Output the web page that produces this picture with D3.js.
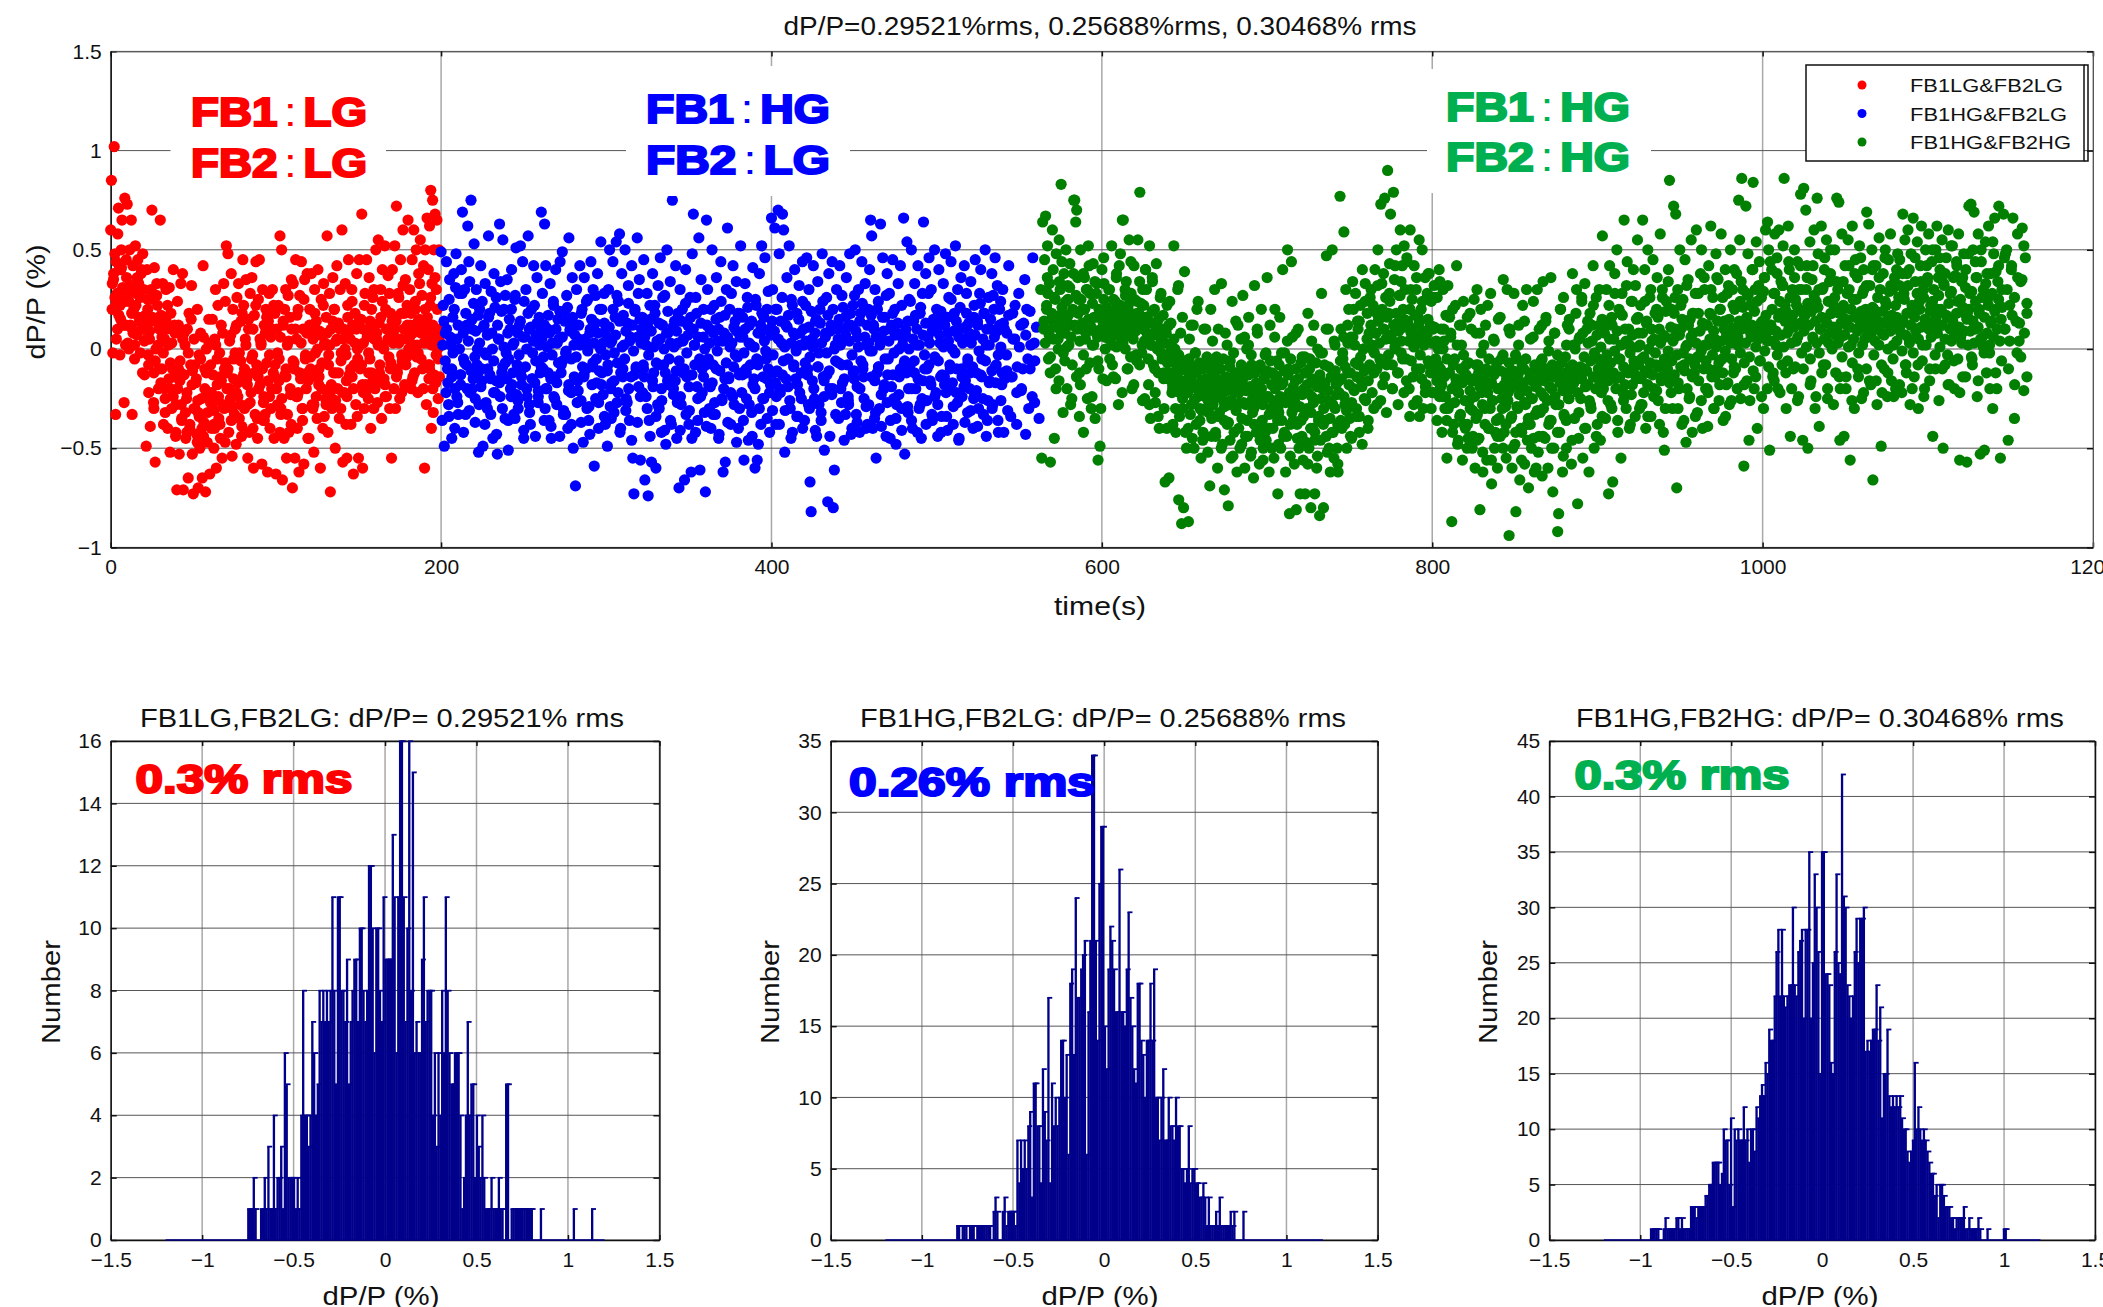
<!DOCTYPE html>
<html>
<head>
<meta charset="utf-8">
<script src="https://cdn.jsdelivr.net/npm/d3@7"></script>
<style>
html, body { margin: 0; padding: 0; background: #fff; overflow: hidden; }
svg { display: block; }
text { font-family: "Liberation Sans", Arial, sans-serif; fill: #111; }
</style>
</head>
<body>
<div id="chart"></div>
<script>
// all values, one row per time slice
var redValues = [
 [.6,.85,.2,-.02,.35,1.02,.48,-.33,.05,.28,.58,.71,.4,-.03,.15,.5,.65,.3,.25,-.27,.76,.02,.45],
 [.73,.3,.0,.5,.12,.65,-.33,.42,.2,-.05,.52,.28,.07,.45,.33,.14,-.02,.38,.1,.48],
 [.3,-.13,.12,-.49,.4,.2,-.08,.05,-.39,.3,.7,.14,-.27,.41,-.57,.0,.33,.22,-.2,.1],
 [.65,.17,-.1,.33,-.38,.05,-.25,.3,.1,-.4,.02,.31,-.52,.18,-.3,-.1,.4,-.14,.08,-.42],
 [-.71,-.2,.12,-.53,-.06,.33,-.35,.38,-.71,-.13,.02,-.45,-.25,.1,-.65,.18,-.38,-.08,.32,-.53],
 [-.73,.05,-.3,-.17,-.43,.2,-.7,-.03,-.5,.08,-.25,-.65,.42,-.37,-.1,-.72,.0,-.47,-.22,.15],
 [-.63,-.08,-.4,.15,-.27,-.5,.05,.3,-.6,-.18,.22,-.35,-.02,-.45,.12,-.55,-.28,.33,-.1,.24],
 [.52,-.12,.48,-.42,.04,-.25,.38,-.54,.2,-.05,-.33,.1,-.48,.26,-.17,.33,-.02,-.28,.14,-.39],
 [.45,.22,-.3,.05,.35,-.15,-.55,.1,-.42,.28,-.22,.36,-.03,-.6,.17,-.33,.44,-.08,-.45,.25],
 [.45,-.18,.03,-.58,.3,-.27,.12,-.33,.2,-.07,-.62,.14,.28,-.4,.06,-.2,.3,-.12,-.45,.18],
 [-.63,.1,-.28,.22,-.05,.57,-.33,.5,-.66,.12,-.45,-.13,.3,-.55,.02,.27,-.42,.16,-.23,.35],
 [-.7,.33,-.1,-.55,.45,.05,-.4,.2,-.62,.27,-.15,.44,-.3,.1,-.58,.35,-.03,-.2,.38,-.45],
 [-.45,.2,-.1,.38,-.28,.05,-.52,.3,-.02,.14,-.35,.4,-.18,.09,-.6,.25,-.07,-.4,.33,.02],
 [-.25,.16,.57,-.42,-.03,.28,-.72,.1,-.3,.36,-.12,.2,-.5,.04,.42,-.2,.13,-.35,.3,-.06],
 [.6,-.57,.1,-.22,.33,-.03,-.55,.22,.45,-.13,.05,-.38,.3,.12,-.63,-.08,.18,-.28,.38,.0],
 [-.55,.45,-.1,.15,.68,-.6,.03,-.3,.28,-.18,.45,.08,-.25,.36,-.05,-.4,.2,.12,-.15,.3],
 [-.2,.5,.05,-.27,.55,.13,-.08,.3,-.35,.4,.02,-.15,.52,.2,-.24,.1,.37,-.04,-.3,.18],
 [-.55,.4,.08,-.2,.52,.15,.72,-.1,.28,.03,-.25,.45,.18,-.06,.6,.1,-.18,.35,.05,.22],
 [.65,-.02,.3,.12,-.2,.45,.08,.6,-.12,.2,.5,.02,-.22,.38,.15,.55,-.05,.27,.1,.42],
 [-.6,.5,.12,-.28,.66,.03,.4,-.15,.62,.22,.8,-.4,.33,.75,-.32,.5,.08,.68,-.17,.3,.65,.0,-.25,.5,.1]
];
var redDense = [
 [.33,.38,.26,.44,.1,.17,.22,.41,.31,.12,.24,.36,.03],
 [.24,.29,.18,.08,.02,.22,.35,.16,.26,.4,.1,.04],
 [.17,.05,-.03,.09,.25,.16,-.12,-.06,.27,.02,.12,-.17],
 [.06,-.02,-.2,.14,.22,-.15,-.07,.03,-.24,.12,-.28,.24],
 [-.1,-.16,-.28,.05,.08,-.32,-.22,-.02,-.4,.15,-.11,-.3],
 [-.08,-.15,-.26,-.34,-.05,-.4,.06,-.2,-.12,-.32,.03,-.27],
 [-.22,-.13,-.31,.02,-.05,-.24,-.38,-.16,.08,-.3,-.07,-.2],
 [-.1,-.2,.07,-.3,-.15,-.02,.12,-.24,-.35,-.06,.18,-.13],
 [-.1,.02,-.18,.15,-.27,-.05,.1,-.12,.22,-.35,-.2,.05],
 [.02,-.1,-.24,.08,.16,-.16,-.03,-.3,.1,.22,-.08,-.2],
 [-.02,-.16,.06,-.25,.14,.2,-.1,-.33,.04,-.2,.1,-.06],
 [-.07,.1,.17,-.22,-.12,.03,-.3,.25,-.05,.08,-.16,.12],
 [-.04,-.14,.1,.18,-.24,.0,-.1,.07,-.2,.22,.03,-.28],
 [.08,-.08,.02,-.18,.14,.2,-.26,.05,-.12,.1,-.02,-.22],
 [.05,.0,-.16,.16,.09,-.1,.24,-.2,.03,.1,-.05,.14],
 [.02,-.08,.1,.22,-.22,.06,-.02,.14,-.12,.26,.05,-.18],
 [.08,.02,-.12,.16,.24,.0,-.18,.1,.05,.28,-.07,.14],
 [.03,.1,.14,-.12,.26,.05,-.03,.32,.18,-.08,.12,.0],
 [.06,.18,.02,.1,.24,-.04,.14,.33,.08,-.1,.03,.2],
 [.05,.16,.1,-.08,.26,.02,.12,-.13,.36,.06,.2,-.05,.04]
];
var redLow = [
 [.22,.4,.12,.32],[.1,.36,-.12,.25],[-.22,-.3,-.1,.05],[-.32,-.2,-.44,-.12],[-.36,-.42,-.18,-.47],
 [-.32,-.44,-.24,-.38],[-.4,-.14,-.47,-.28],[-.36,-.22,-.44,-.12],[-.28,-.4,-.14,-.36],[-.36,-.24,-.14,-.42],
 [-.3,-.14,-.38,-.24],[-.24,-.36,-.12,-.3],[-.28,-.14,-.34,-.22],[-.24,-.12,-.3,-.38],[-.24,-.14,-.34,-.18],
 [-.22,-.12,-.3,-.16],[-.16,-.24,-.1,-.3],[-.14,-.22,-.04,-.16],[-.14,-.02,-.2,-.08],[-.1,-.2,-.03,-.14]
];
var blueValues = [
 [.49,-.36,.22,-.49,.08,.44,-.1,-.28,.35,.02,-.45,.16,.38,-.2,.48,.05,-.33,.28,-.13,.4,.69,-.05,.3,-.33,.12,.62,.44,-.22,.75,.1,-.15],
 [.53,-.25,.3,.0,-.52,.2,.42,-.1,-.49,.12,.33,-.03,-.3,.57,.18,-.15,.08,-.45,.38,-.22,.26,-.53,.05,.63,.34,-.12,.55,.2,-.35,-.02],
 [.35,-.51,.15,-.2,.4,.02,-.33,.25,.51,-.08,-.3,.12,.52,-.14,.44,-.45,.06,.3,-.24,.57,.1,-.38,.2,-.02,.42,-.17,.07,.36,-.27,.16],
 [-.12,.69,.28,-.04,.63,.42,-.2,.1,-.36,.33,-.45,.03,.22,-.14,.4,-.28,.15,.05,.44,-.08,.49,-.33,.19,-.02,.27,-.4,.56,.1,-.22,.36],
 [-.5,.12,-.69,.3,-.16,.05,.42,-.26,.2,-.47,.36,.02,-.1,.25,-.36,.08,.44,-.18,.3,-.59,.13,-.05,.38,-.27,.2,.54,-.12,.03,.28,-.38],
 [.1,-.49,.3,.5,-.2,.04,.44,-.32,.16,.54,-.07,.24,.58,-.4,.38,-.14,.02,.5,-.25,.13,.32,-.36,.06,.42,-.55,-.73,.2,-.1,.56,.28],
 [.35,-.56,.1,-.22,.45,-.66,.02,.28,-.74,-.36,.15,-.57,.38,-.12,.22,-.6,.04,.32,-.3,.46,-.42,.12,-.08,.27,-.48,.5,.08,-.18,.34,-.38],
 [.75,-.2,.14,.42,-.45,.03,-.7,.3,-.28,.2,.05,-.66,.4,-.14,.12,-.38,.26,-.62,.48,.68,.02,-.42,.18,-.25,.56,-.61,.35,-.1,.06,-.32],
 [-.72,.65,.3,-.18,.1,-.4,.5,-.08,.22,-.33,.36,.04,-.45,.16,.44,-.25,-.62,.08,-.57,.3,.61,-.14,.2,-.38,.03,.42,-.28,.14,.34,-.04],
 [-.4,.18,.52,-.22,.06,-.56,.33,-.1,.26,-.46,.12,.02,-.32,.41,-.15,-.6,.22,-.56,-.48,.38,.08,.52,-.25,.16,.46,-.05,-.35,.29,.1,-.18],
 [.66,.3,-.12,.61,-.38,.2,.7,.48,-.22,.03,.68,.6,-.52,.12,.36,-.05,.52,-.3,.25,-.42,.08,.4,-.15,.18,-.34,.32,.02,-.25,.44,.1],
 [-.36,.22,.46,-.1,.3,-.67,-.82,.05,.42,-.25,.14,-.44,.34,-.02,.2,-.32,.48,-.14,-.51,.08,.26,-.77,.38,-.2,.12,.44,-.8,-.61,.02,.3],
 [.1,-.35,.42,-.2,.27,.04,-.46,.16,.36,-.08,-.28,.48,.12,-.4,.22,-.15,.5,-.33,.06,.3,-.42,.18,.44,-.1,-.25,.33,.02,-.38,.2,.4],
 [.65,.57,-.4,.1,.3,-.55,-.12,.24,-.3,.63,.05,.46,-.2,.16,-.44,.38,-.05,.28,-.36,.12,.45,-.25,.2,-.48,.08,.33,-.14,.42,-.3,.02],
 [.66,-.53,.1,.54,-.32,.25,-.08,.5,-.4,.14,.33,-.2,.02,.42,-.3,.18,-.45,.28,.64,-.1,.38,-.26,.06,.46,-.16,.3,-.36,.12,.5,-.05],
 [.2,-.28,.4,.03,-.42,.15,.33,-.14,.48,-.34,.08,.26,-.2,.44,.0,-.38,.18,.52,-.1,.3,-.46,.1,.36,-.24,.05,.42,-.16,.28,-.32,.13],
 [-.2,.34,.06,-.4,.22,.45,-.12,.14,-.3,.28,.4,-.05,-.25,.18,.5,.02,-.36,.26,-.16,.1,.38,-.28,.2,.46,-.08,.32,-.42,.12,.24,-.18],
 [.3,-.15,.08,.42,-.34,.18,.05,-.22,.28,.12,-.1,.35,.2,-.3,.02,.46,-.06]
];
var blueDense = [
 [.02,.14,-.06,.1,-.17,.25,.06,-.1,-.02,.2,.31,-.24,.12,.0,-.13,.28,.08,-.07,.18,-.2,.04,.34,-.11,.15,.23,-.04],
 [.09,-.08,.17,.03,-.19,.24,.11,-.02,-.27,.07,.16,-.13,.29,.0,-.06,.21,-.16,.12,.05,-.24,.19,-.09,.01,.27,-.15,.08],
 [-.05,.1,.2,-.12,.03,.27,-.23,.08,-.03,.14,-.18,.06,.24,-.09,.0,.18,-.28,.11,-.15,.04,.22,-.06,.13,-.21,.02,.09],
 [.05,-.1,.12,-.2,.01,.17,.08,-.15,-.03,.24,-.25,.1,.03,-.07,.19,-.12,.06,-.31,.14,-.01,.21,-.18,.09,-.05,.16,.02],
 [.07,-.04,-.21,.12,.02,.18,-.09,-.14,.05,.24,-.01,-.29,.1,.15,-.07,.03,.27,-.17,.08,-.11,.0,.2,-.23,.13,-.03,.06],
 [-.08,.11,.03,-.17,.2,-.02,.07,.27,-.22,.14,-.12,.01,.17,-.05,.09,-.27,.23,.04,-.14,.12,-.01,.19,-.09,.06,-.19,.15],
 [.03,.16,-.1,.06,-.24,.12,-.03,.22,.09,-.16,.01,.18,-.07,-.28,.13,.05,-.2,.26,.0,-.12,.08,.19,-.05,.03,-.15,.11],
 [.01,-.16,.09,.18,-.06,-.24,.14,.04,-.1,.23,-.02,.07,-.31,.16,-.13,.1,.02,.26,-.19,.06,-.05,.13,-.22,.2,.0,-.08],
 [.12,-.05,.03,.2,-.17,.08,-.27,.15,-.01,.1,-.11,.24,.04,-.2,.17,-.07,.06,-.15,.01,.28,-.24,.11,-.03,.09,.18,-.13],
 [.06,-.12,.16,-.02,.1,-.25,.21,.03,-.08,.14,-.18,.01,.25,-.05,.08,-.3,.12,.18,-.14,.04,-.01,.2,-.1,-.22,.07,.14],
 [-.03,.09,.2,-.11,.05,-.2,.14,.26,-.06,.01,-.15,.11,.17,-.26,.03,.22,-.09,.07,-.01,-.18,.15,.08,-.12,.24,.02,-.07],
 [.04,-.13,.11,-.04,.19,.01,-.2,.08,.15,-.09,-.28,.13,.03,.24,-.16,.06,-.02,.17,-.11,.09,-.23,.2,.0,-.06,.12,.05],
 [.15,.02,-.08,.21,-.15,.07,.11,-.24,.04,.18,-.03,-.12,.27,.09,-.19,.01,.14,-.06,.23,-.14,.06,-.29,.12,.03,-.01,.17],
 [-.01,.12,-.16,.06,.2,-.09,.02,-.23,.16,.09,-.05,.27,-.13,.04,.1,-.19,.18,-.02,.07,-.28,.13,.0,-.1,.22,.05,-.07],
 [.08,-.12,.14,.0,.24,-.2,.05,-.06,.17,.1,-.15,.02,.21,-.25,.07,-.03,.13,-.1,.28,.03,-.18,.09,.15,-.04,-.22,.11],
 [-.06,.07,.19,-.13,.01,.12,-.22,.16,.04,-.08,.25,-.17,.09,-.02,.14,-.27,.06,.21,-.1,.03,-.19,.11,.18,-.05,.08,-.12],
 [.03,-.09,.16,.07,-.21,.12,-.01,.23,-.14,.05,.18,-.06,.1,-.26,.02,.15,-.11,.27,.06,-.17,.09,-.03,.2,.01,-.12,.13],
 [.1,-.03,.17,-.14,.05,.22,-.09,.01,-.2,.13,.07,-.05,.19,-.24,.03,.11]
];
var blueLow = [
 [-.22,-.34,-.14,-.4,-.27,-.18,-.42,-.08,-.31,-.2,-.37,-.12],
 [-.28,-.16,-.38,-.1,-.33,-.22,-.43,-.17,-.3,-.07,-.36,-.24],
 [-.18,-.35,-.26,-.11,-.41,-.2,-.32,-.15,-.44,-.24,-.09,-.36],
 [-.3,-.12,-.39,-.24,-.17,-.44,-.06,-.33,-.21,-.38,-.14,-.27],
 [-.21,-.37,-.13,-.3,-.43,-.09,-.25,-.4,-.18,-.34,-.11,-.29],
 [-.35,-.16,-.27,-.42,-.1,-.31,-.2,-.46,-.13,-.37,-.24,-.08],
 [-.14,-.3,-.44,-.19,-.34,-.08,-.26,-.41,-.16,-.36,-.23,-.11],
 [-.27,-.41,-.12,-.33,-.19,-.45,-.08,-.36,-.24,-.14,-.39,-.3],
 [-.19,-.33,-.1,-.43,-.26,-.15,-.37,-.22,-.09,-.47,-.3,-.13],
 [-.36,-.12,-.28,-.44,-.2,-.08,-.38,-.25,-.15,-.42,-.31,-.17],
 [-.24,-.38,-.13,-.31,-.19,-.45,-.08,-.34,-.22,-.4,-.11,-.28],
 [-.3,-.16,-.41,-.09,-.36,-.24,-.13,-.44,-.2,-.33,-.07,-.27],
 [-.17,-.33,-.26,-.43,-.11,-.37,-.2,-.08,-.4,-.28,-.14,-.35],
 [-.32,-.09,-.39,-.18,-.27,-.45,-.13,-.35,-.23,-.41,-.06,-.29],
 [-.2,-.36,-.12,-.42,-.28,-.16,-.38,-.08,-.33,-.24,-.44,-.14],
 [-.34,-.18,-.41,-.1,-.29,-.22,-.45,-.14,-.37,-.07,-.31,-.25],
 [-.23,-.39,-.13,-.33,-.44,-.17,-.3,-.09,-.36,-.26,-.42,-.11],
 [-.31,-.14,-.38,-.21,-.43,-.1,-.27,-.35]
];
var greenValues = [
 [.3,-.55,.64,.1,.45,.67,.2,.52,-.05,.33,-.57,.15,.6,.05,-.45,.25,.48,.12,.0,.55,.3,.83,.18,-.32,.38,.08,.5,-.2,.25,.02,.43,.12,-.25,.2],
 [.75,.75,.64,.7,.36,.25,-.12,.5,.1,.2,-.42,.36,.05,.3,-.25,.52,.12,.28,-.3,.02,.43,.16,-.35,.08,.33,-.56,.2,-.49,.1,.4,-.15,.25,.06,.17],
 [.2,.08,.3,-.05,.16,.52,.02,.25,.12,-.15,.38,.1,-.28,.2,.48,.05,.65,.65,.16,.0,.34,-.1,.22,.55,.07,.28,-.2,.14,.42,.1,-.03,.24,.55,.18],
 [.79,.12,-.02,.3,.22,-.25,.4,.05,.15,-.18,.52,-.35,.02,.34,-.08,.2,-.27,.43,.1,-.12,-.4,.26,.03,-.05,.17,-.3,-.67,.1,.22,-.15,-.65,-.02,.13,-.22],
 [-.38,.52,.0,-.42,-.12,.3,-.76,-.22,.08,-.88,-.3,-.8,.39,-.1,-.5,-.18,-.87,.05,-.33,-.14,-.45,.12,-.26,-.02,-.38,-.2,.24,-.09,-.3,-.55,-.16,-.42,.1,-.24],
 [-.3,-.08,-.52,-.18,-.69,.2,-.35,-.12,-.25,.3,-.44,-.04,-.6,-.2,-.32,-.1,.33,-.48,-.26,-.71,.08,-.16,-.38,-.79,-.28,-.06,-.55,.24,-.2,-.42,-.12,-.3,-.62,.12],
 [-.22,-.5,.05,-.35,.27,-.14,-.6,-.28,.0,-.44,.16,-.2,-.54,-.08,-.32,-.65,.32,-.18,-.42,.08,-.26,-.58,-.1,.2,-.36,-.5,-.15,-.03,-.46,.36,-.24,-.62,.12,-.3],
 [-.12,-.4,-.55,.2,-.28,-.06,-.73,-.32,.16,-.5,-.18,.4,-.44,-.02,-.62,-.25,.5,-.1,-.83,-.38,.44,.06,-.3,-.58,-.16,-.81,-.45,.1,-.22,-.73,-.36,-.04,-.56,-.2],
 [-.73,-.12,-.3,.18,-.5,-.05,-.8,-.24,-.4,.12,-.73,-.16,-.6,.0,-.34,-.84,-.46,.28,-.2,-.8,-.08,-.36,.47,-.52,.1,-.26,-.62,-.14,.5,-.42,.04,-.3,-.18,-.5],
 [-.62,-.22,.77,.1,-.4,-.05,.59,-.28,.3,-.5,-.12,.2,-.35,.06,-.45,.34,-.2,.02,.28,-.3,.14,-.08,-.42,.22,-.16,.4,.0,-.25,.33,-.1,.18,-.36,.08,.26],
 [.3,.02,.22,-.12,.4,.08,-.28,.5,.15,-.05,.73,.33,-.18,.1,.76,.26,-.08,.9,.18,.43,.68,.05,-.2,.79,.35,.0,.5,.13,-.12,.27,.6,-.02,.42,.2],
 [.52,.3,-.05,.44,.12,-.2,.6,.08,.25,-.14,.42,.02,.3,-.26,.16,.55,-.1,.2,.5,-.3,.05,.36,-.18,.28,-.06,.38,.12,.24,-.22,.1,.32,-.12,.04],
 [.26,-.08,.4,-.2,.1,-.42,.3,.04,-.3,.17,-.55,.32,-.12,-.28,.08,-.87,.2,-.38,-.05,-.18,.42,-.48,-.22,.12,-.33,.02,-.56,.24,-.14,-.4,-.08,.16,-.45,-.26],
 [-.3,.1,-.5,-.15,.25,-.6,-.35,.3,-.08,-.45,-.81,.2,-.22,-.62,.02,-.3,-.12,-.56,.22,-.4,-.18,.28,-.68,-.26,.05,-.5,-.1,-.36,-.6,.15,-.2,-.44,-.05,-.3],
 [.35,-.42,-.12,-.55,.3,-.22,-.94,.08,-.35,-.6,-.15,.28,-.48,-.82,-.05,-.3,.12,-.66,-.2,-.42,.22,-.1,-.58,-.28,.3,-.38,-.7,-.15,.05,-.5,-.25,.24,-.62,-.33],
 [-.18,.3,-.52,.1,-.32,-.06,-.64,.34,-.24,-.45,.16,-.12,-.6,.04,-.36,.36,-.2,-.72,-.5,.08,-.28,-.1,-.92,-.83,-.42,.2,-.15,-.62,.26,-.34,-.04,-.5,.12,-.25],
 [.15,-.2,-.58,.38,.02,-.35,-.12,.3,-.78,-.45,.06,-.25,.24,-.55,-.1,.33,-.4,.1,-.18,-.62,.18,-.3,.04,.42,-.5,-.14,.26,-.38,-.05,.12,-.46,-.22],
 [.57,-.2,.08,-.35,.3,-.1,-.73,.42,-.28,.16,-.67,.05,.38,-.15,.5,-.42,.2,-.05,-.55,.28,-.22,.65,.1,-.3,.44,-.12,.02,-.38,.24,-.18,.4,-.08],
 [.32,-.15,.55,.08,-.3,.22,-.05,.65,-.22,.4,-.4,.14,.5,-.12,.26,-.34,.04,.45,-.2,.18,-.08,.36,-.26,.1,.58,-.16,.3,-.42,-.51,.06,.24,-.1],
 [.4,.85,-.14,.2,-.3,.72,.06,.68,-.7,.3,-.2,.5,.1,-.38,.25,-.08,.45,-.47,.02,.35,-.25,.15,.55,-.42,.08,-.12,.28,.6,-.32,.18,-.04,.38],
 [.5,-.4,.12,.3,-.2,.02,-.39,.42,.18,.62,-.14,.26,-.3,.05,.48,-.1,.35,-.26,.2,.58,-.05,-.36,.14,.4,-.18,.28,.08,-.28,.5,.1,.3,-.12],
 [.2,-.1,.38,.02,.75,.55,-.25,.86,.3,-.59,.12,.72,-.16,.48,-.46,.22,.06,.4,.84,-.2,.3,.54,-.4,.1,.44,-.06,.26,.14,-.3,.36,.6,.08],
 [.64,.5,-.51,.12,.4,-.14,.28,.58,.02,.46,-.2,.6,.18,.34,-.08,.52,.86,.22,-.3,.08,.62,.4,-.44,.15,.3,-.1,.5,.25,.04,.44,-.24,.2],
 [.78,.3,-.46,.81,.12,.7,.42,-.5,.2,.54,-.16,.35,.05,.6,-.3,.24,.76,.48,-.39,.1,.62,.3,-.08,.4,.15,.55,-.25,.03,.34,.5,.18,.08],
 [.22,.5,-.12,.76,.3,.74,-.46,.06,.58,.2,-.44,.42,-.2,.12,.55,.3,-.56,.02,.62,.25,-.3,.45,.1,.36,-.14,.52,.16,-.25,.28,.4,.05,.2],
 [.69,.1,.63,.32,-.18,.5,-.66,.2,.04,.42,-.28,.14,.56,.3,-.49,.08,.38,-.1,.5,.22,-.24,.45,.12,.58,-.16,.3,.02,.36,-.2,.16,.48,.26],
 [.45,.12,-.22,.68,.28,.55,-.08,.38,.6,.05,-.28,.48,.2,.66,-.14,.34,.1,.54,-.3,.24,.42,.62,.02,.3,-.2,.5,.14,.36,.58,-.1,.22,.44],
 [-.44,.3,.08,.5,.62,.2,-.26,.4,.12,.55,-.5,.32,-.08,.46,.16,.6,-.18,.28,.04,.52,.36,-.2,.1,.44,.24,.58,-.56,.06,.34,-.14,.48,.18],
 [.4,-.57,.16,.72,.28,.73,-.05,.5,.69,.1,.36,-.24,.58,.2,-.53,.44,.06,.3,-.51,.54,-.12,.25,.62,.02,.38,.14,-.3,.48,.66,.2,-.2,.34],
 [.72,-.55,.3,.68,.1,.5,-.46,.22,.4,.66,-.35,.14,.58,.04,.34,.61,-.21,.46,.18]
];
var greenDense = [
 [.14,.03,.22,.28,.07,-.04,.18,.11,.26,-.1,.16,.05,.34,.09,.21,-.02,.13,.24,.01,.17,.31,.06,-.08,.19,.12,.27],
 [.1,.18,.04,.25,.13,-.03,.2,.08,.3,.15,-.07,.11,.23,.02,.16,.28,.06,-.1,.19,.09,.14,.33,.0,.21,.12,.05],
 [.13,.06,.19,.1,.24,.01,.15,.08,.22,.17,.03,.12,.27,.07,.2,.11,-.04,.16,.05,.25,.09,.18,.14,-.08,.23,.02],
 [.1,.04,.16,.08,-.05,.13,.02,.19,.07,-.1,.11,.0,.15,.06,-.02,.1,-.15,.03,.08,-.07,.12,-.12,.01,-.18,.05,-.04],
 [-.08,-.14,-.03,-.19,-.1,-.25,-.06,-.16,-.11,-.22,-.05,-.13,-.28,-.09,-.18,-.02,-.12,-.24,-.07,-.17,-.31,-.1,-.2,-.15,-.04,-.26],
 [-.17,-.23,-.12,-.28,-.07,-.2,-.15,-.34,-.1,-.24,-.19,-.05,-.29,-.14,-.21,-.37,-.09,-.26,-.16,-.02,-.22,-.31,-.12,-.18,-.27,-.08],
 [-.16,-.27,-.1,-.21,-.36,-.13,-.19,-.03,-.25,-.3,-.12,-.17,-.23,-.38,-.08,-.2,-.28,-.15,-.42,-.11,-.24,-.33,-.06,-.18,-.26,-.13],
 [-.2,-.14,-.3,-.08,-.24,-.36,-.17,-.11,-.27,-.44,-.13,-.22,-.05,-.32,-.19,-.26,-.1,-.38,-.15,-.29,-.07,-.23,-.34,-.12,-.47,-.18],
 [-.22,-.1,-.32,-.15,-.27,-.42,-.07,-.19,-.36,-.13,-.25,-.02,-.3,-.17,-.44,-.21,-.09,-.35,-.14,-.28,-.55,-.11,-.23,-.38,-.16,-.06],
 [-.15,-.02,-.24,-.09,-.31,.03,-.18,-.12,-.27,.06,-.21,-.07,-.14,.1,-.34,-.04,-.19,.0,-.11,-.26,.05,-.16,-.08,.12,-.22,-.01],
 [-.02,.08,-.1,.14,.03,-.06,.2,.1,-.14,.05,.16,-.03,.24,.07,-.08,.12,.01,.18,-.12,.09,.27,.04,-.05,.15,.11,-.16],
 [.14,.04,.2,-.06,.1,.01,.17,-.1,.06,.13,-.03,-.15,.09,.02,-.19,.07,.15,-.08,-.12,.03,-.22,.11,-.05,-.16,.0,-.24],
 [-.1,-.18,.0,-.14,-.24,-.05,-.3,-.12,.06,-.2,-.08,-.27,-.15,.02,-.22,-.34,-.1,-.17,-.03,-.26,-.13,-.38,-.07,-.21,-.16,-.31],
 [-.16,-.24,-.08,-.33,-.12,-.19,-.02,-.28,-.15,-.38,-.1,-.22,-.05,-.3,-.17,-.26,-.13,-.42,-.07,-.2,-.35,-.11,-.25,-.03,-.18,-.29],
 [-.15,-.26,-.07,-.2,-.34,-.11,-.18,-.03,-.29,-.13,-.23,-.4,-.09,-.17,-.27,-.05,-.21,-.35,-.12,-.25,-.16,-.45,-.08,-.19,-.31,-.1],
 [-.13,-.22,-.05,-.3,-.16,-.1,-.26,-.01,-.19,-.36,-.08,-.14,-.24,-.11,-.03,-.28,-.17,-.07,-.21,-.33,-.12,.02,-.18,-.25,-.09,-.15],
 [-.08,-.17,.0,-.12,-.22,.05,-.09,-.15,.08,-.04,-.19,-.11,.03,-.26,-.06,.12,-.14,-.02,-.2,.07,-.1,-.16,.01,.15,-.07,-.13],
 [-.1,-.03,-.16,.05,-.07,.12,-.12,-.01,-.2,.09,-.05,-.14,.02,.17,-.09,-.18,.04,-.11,.1,-.02,-.23,.07,-.06,-.13,.15,.01],
 [-.08,.02,-.15,.08,-.04,-.11,.13,-.18,.0,-.07,.1,-.13,.05,-.02,-.21,.16,-.09,.03,-.14,.07,-.05,.19,-.1,-.01,-.17,.11],
 [-.06,.04,-.13,.1,-.03,-.17,.07,-.09,.15,-.02,-.11,.01,-.2,.12,-.05,.06,-.14,.18,-.08,.03,-.04,-.16,.09,-.01,.13,-.1],
 [.02,-.06,.12,-.1,.05,.17,-.03,.09,-.14,.01,.14,-.07,.2,.04,-.12,.1,-.01,.07,-.17,.15,.03,-.05,.22,-.09,.06,.11],
 [.06,.14,-.02,.1,.21,-.07,.03,.16,.27,-.04,.08,.12,-.11,.19,.01,.24,.05,-.06,.13,.09,.29,-.01,.17,.04,-.09,.11],
 [.12,.2,.04,.28,.09,-.03,.16,.24,.07,.32,.01,.14,.19,-.06,.1,.26,.03,.17,.11,-.09,.22,.06,.3,.13,-.02,.18],
 [.09,.17,.01,.23,.12,-.05,.19,.06,.27,.14,.03,.21,-.02,.1,.16,.31,.05,-.08,.13,.24,.08,.18,.0,.11,.26,.07],
 [.1,.03,.18,.13,-.04,.22,.07,.15,.28,.01,.11,.2,-.07,.05,.16,.25,.09,-.02,.14,.19,.02,.3,.12,-.1,.08,.17],
 [.13,.06,.21,-.03,.16,.1,.26,.02,.12,-.08,.19,.07,.24,.14,.0,.29,.09,.17,-.05,.11,.22,.04,.15,.32,.08,-.01],
 [.14,.25,.07,.18,.32,.03,.12,.22,-.02,.16,.09,.28,.05,.2,.11,-.06,.26,.15,.02,.34,.1,.19,.06,.24,.13,-.03],
 [.16,.08,.27,.01,.2,.12,.33,.05,.17,-.03,.23,.1,.29,.14,.06,.37,.18,-.05,.11,.25,.03,.21,.09,.31,.15,.02],
 [.2,.09,.29,.14,.03,.24,.36,.11,.18,.05,.26,.01,.16,.33,.08,.22,-.02,.13,.28,.06,.19,.39,.1,.25,.04,.15],
 [.21,.1,.3,.04,.17,.26,-.02,.13,.35,.08,.23]
];
var greenWide = [
 [.36,-.12,.4,-.2,-.16,.44,-.06,.32,-.28,.38,-.14,-.34],
 [-.18,.38,-.1,.42,-.24,.34,-.06,-.3,.46,-.16,.3,-.08],
 [-.14,.36,.42,-.22,.3,-.1,.44,-.18,-.06,.34,-.26,.4],
 [.3,-.28,.36,-.22,-.34,.28,-.12,-.4,.24,-.2,-.3,.32],
 [-.34,.16,-.42,-.4,.12,-.5,.2,-.36,-.46,.1,-.32,-.44],
 [.04,-.42,.1,-.5,-.36,.02,-.46,-.54,.14,-.4,-.48,.06],
 [-.44,.02,-.52,-.38,.1,-.46,-.56,-.02,-.4,-.5,.06,-.36],
 [-.48,-.02,-.42,.04,-.54,-.36,.08,-.5,-.44,-.04,-.58,-.4],
 [.04,-.46,-.54,-.02,-.38,.1,-.5,-.42,.02,-.58,-.36,.06],
 [-.38,.12,-.44,.2,-.34,.14,-.48,.24,-.4,.08,-.3,.18],
 [.32,-.26,.38,-.32,.28,-.2,.42,-.28,.34,-.22,.46,-.34],
 [.3,-.28,.36,-.34,.24,-.22,.38,-.3,.26,-.36,.34,-.24],
 [.1,-.36,.16,-.42,.22,-.46,.12,-.38,-.5,.18,-.44,.08],
 [-.46,.08,-.52,.12,-.4,-.56,.04,-.44,.16,-.5,-.38,.1],
 [.1,-.5,-.42,.02,-.56,.14,-.46,-.38,.06,-.6,-.44,.12],
 [-.44,.14,-.38,-.5,.08,-.42,.2,-.54,-.36,.1,-.46,.02],
 [.18,-.32,.26,-.4,.14,-.28,.22,-.44,.3,-.34,.12,-.26],
 [.22,-.3,.28,-.36,.18,-.26,.32,-.4,.24,-.34,.16,-.28],
 [-.28,.24,-.34,.3,-.24,.2,-.38,.26,-.3,.34,-.22,.18],
 [.26,-.3,.22,-.36,.32,-.24,.18,-.34,.28,-.26,.36,-.2],
 [-.22,.3,-.3,.36,-.18,.26,-.34,.32,-.26,.4,-.2,.24],
 [.34,-.18,.28,-.26,.4,-.14,.32,-.24,.36,-.2,.44,-.12],
 [-.16,.38,-.22,.32,-.12,.44,-.2,.36,-.26,.42,-.1,.3],
 [.36,-.18,.42,-.24,.3,-.12,.46,-.2,.38,-.28,.34,-.14],
 [-.2,.34,-.14,.42,-.26,.38,-.1,.46,-.22,.32,-.16,.4],
 [.42,-.16,.36,-.22,.46,-.12,.32,-.24,.4,-.18,.38,-.08],
 [-.12,.4,-.2,.46,-.08,.34,-.24,.42,-.16,.5,-.1,.36],
 [.46,-.1,.38,-.18,.52,-.06,.42,-.22,.36,-.14,.48,-.04],
 [-.08,.44,-.16,.5,-.02,.38,-.2,.54,-.12,.42,-.06,.46],
 [.48,-.1,.42,-.18,.36,-.04,.52,-.14]
];

var hist1Counts = [1,1,1,2,1,0,0,1,1,2,1,3,1,1,4,1,2,2,3,1,6,5,2,2,2,2,1,2,1,4,8,4,4,3,4,7,6,4,5,8,7,8,7,8,7,8,11,8,5,11,11,8,8,7,9,5,7,8,9,9,7,10,10,8,7,8,12,12,10,6,10,10,8,7,11,9,9,9,9,13,11,6,11,16,16,11,7,10,16,8,15,6,7,6,6,9,11,7,8,8,8,4,6,3,6,4,8,6,11,8,6,5,5,6,6,6,4,1,2,4,7,4,5,5,2,4,3,2,4,2,1,1,1,2,1,1,1,2,1,1,0,5,5,0,1,1,1,1,1,1,1,1,1,1,1,1,0,0,0,0,1,0,0,0,0,0,0,0,0,0,0,0,0,0,0,0,0,0,1,0,0,0,0,0,0,0,0,0,1];
var hist2Counts = [1,1,0,1,1,1,0,1,1,1,0,1,1,1,1,1,1,1,1,0,2,3,2,0,0,2,3,1,2,2,2,2,1,7,4,7,5,7,5,8,9,3,11,11,8,8,4,12,9,7,17,4,11,8,10,8,10,14,14,10,13,6,18,19,13,24,17,17,19,20,21,6,16,21,34,34,21,14,25,29,29,15,12,19,22,21,19,16,16,26,16,16,15,19,23,17,15,12,11,18,18,14,13,10,14,14,18,14,19,10,10,7,10,12,7,7,10,8,8,7,10,8,8,5,5,4,5,8,4,5,5,4,4,3,3,4,3,1,3,1,1,1,2,1,3,1,1,1,1,1,2,1,2,0,0,0,0,2];
var hist3Counts = [1,1,1,1,1,0,0,1,2,1,1,1,1,1,2,2,1,2,1,1,1,1,3,3,3,2,3,3,3,3,4,4,5,5,7,7,7,7,5,6,10,9,9,5,11,3,10,9,10,9,9,12,9,10,7,10,10,8,12,11,13,14,13,16,15,19,18,18,22,26,28,22,28,22,21,22,23,23,30,23,22,26,27,28,20,28,28,35,20,25,33,30,26,15,35,35,24,24,23,16,15,26,33,25,24,42,31,30,23,22,20,22,26,29,25,29,29,30,17,18,17,18,19,19,23,18,21,11,15,15,19,13,12,13,12,13,12,13,11,10,10,8,7,8,9,16,10,12,10,9,10,9,8,7,6,6,4,5,2,5,5,4,3,3,3,2,2,1,2,2,2,2,3,1,1,2,1,1,1,1,2,1,0,0,0,1,0,0,0,0,0,0,0,0,1,1];

var timeTicks = [0, 200, 400, 600, 800, 1000, 1200];
var dpTicks = [-1, -0.5, 0, 0.5, 1, 1.5];
var histXTicks = [-1.5, -1, -0.5, 0, 0.5, 1, 1.5];
var hist1Ticks = [0, 2, 4, 6, 8, 10, 12, 14, 16];
var hist2Ticks = [0, 5, 10, 15, 20, 25, 30, 35];
var hist3Ticks = [0, 5, 10, 15, 20, 25, 30, 35, 40, 45];
var legendNames = ['FB1LG&FB2LG', 'FB1HG&FB2LG', 'FB1HG&FB2HG'];

var svg = d3.select('#chart').append('svg')
    .attr('width', 2103)
    .attr('height', 1307);

var fmt = d3.format('');

function drawFrame(x, y, xTicks, yTicks, farColor) {
    var x0 = x.range()[0], x1 = x.range()[1], y0 = y.range()[0], y1 = y.range()[1];
    var g = svg.append('g');

    // grid
    g.selectAll('.gv').data(xTicks).enter().append('line')
        .attr('x1', x).attr('x2', x).attr('y1', y0).attr('y2', y1)
        .attr('stroke', '#a8a8a8').attr('stroke-width', 1.5);
    g.selectAll('.gh').data(yTicks).enter().append('line')
        .attr('x1', x0).attr('x2', x1).attr('y1', y).attr('y2', y)
        .attr('stroke', '#555').attr('stroke-width', 1);

    // axes, ticks point inward
    g.append('g').attr('transform', 'translate(0,' + y0 + ')')
        .call(d3.axisBottom(x).tickValues(xTicks).tickFormat(fmt).tickSizeInner(-5).tickSizeOuter(0).tickPadding(12));
    g.append('g').attr('transform', 'translate(' + x0 + ',0)')
        .call(d3.axisLeft(y).tickValues(yTicks).tickFormat(fmt).tickSizeInner(-6).tickSizeOuter(0).tickPadding(9));
    var top = g.append('g').attr('transform', 'translate(0,' + y1 + ')')
        .call(d3.axisTop(x).tickValues(xTicks).tickFormat('').tickSizeInner(-5).tickSizeOuter(0));
    var right = g.append('g').attr('transform', 'translate(' + x1 + ',0)')
        .call(d3.axisRight(y).tickValues(yTicks).tickFormat('').tickSizeInner(-6).tickSizeOuter(0));
    g.selectAll('.domain').attr('stroke', '#111').attr('stroke-width', 1.5);
    top.select('.domain').attr('stroke', farColor).attr('stroke-width', farColor === '#111' ? 1.5 : 1);
    right.select('.domain').attr('stroke', farColor).attr('stroke-width', farColor === '#111' ? 1.5 : 1);
    g.selectAll('.tick line').attr('stroke', '#111').attr('stroke-width', 1.5);
    g.selectAll('.tick text').style('font-size', '21px').attr('fill', '#111');
    return g;
}

function label(x, y, str, size, opts) {
    opts = opts || {};
    var t = svg.append('text')
        .attr('x', x).attr('y', y)
        .attr('text-anchor', opts.anchor || 'middle')
        .style('font-size', size + 'px');
    if (opts.rotate) t.attr('transform', 'rotate(-90 ' + x + ' ' + y + ')');
    if (opts.color) t.style('fill', opts.color);
    if (opts.heavy) t.style('font-weight', 'bold').style('stroke', opts.color).style('stroke-width', 2.2);
    if (opts.heavy && str.indexOf('：') > 0) {
        // the colon in the reference is thin next to the heavy letters
        var parts = str.split('：');
        t.append('tspan').text(parts[0]);
        t.append('tspan').style('font-weight', 'normal').style('stroke', 'none').attr('dx', 6).text(':');
        t.append('tspan').attr('dx', 6).text(parts[1]);
    } else {
        t.text(str);
    }
    if (opts.length) t.attr('textLength', opts.length).attr('lengthAdjust', 'spacingAndGlyphs');
    return t;
}

// ---------- top scatter ----------
var xTime = d3.scaleLinear().domain([0, 1200]).range([110.7, 2093]);
var yDp = d3.scaleLinear().domain([-1, 1.5]).range([547.4, 51.4]);
drawFrame(xTime, yDp, timeTicks, dpTicks, '#555');

function addSeries(rows, start, end, rowSeconds, color) {
    rows.forEach(function (row, i) {
        var t0 = start + i * rowSeconds;
        var t = d3.scaleLinear().domain([0, row.length - 1]).range([t0, Math.min(t0 + rowSeconds - 0.6, end)]);
        svg.append('g').selectAll('circle').data(row).enter().append('circle')
            .attr('cx', function (d, j) { return xTime(t(j)); })
            .attr('cy', function (d) { return yDp(d); })
            .attr('r', 5.6)
            .attr('fill', color);
    });
}
addSeries(redValues, 0, 199, 10, '#ff0000');
addSeries(redDense, 1, 199, 10, '#ff0000');
addSeries(redLow, 3, 199, 10, '#ff0000');
addSeries(blueValues, 200, 562, 20, '#0000ff');
addSeries(blueDense, 201, 562, 20, '#0000ff');
addSeries(blueLow, 203, 562, 20, '#0000ff');
addSeries(greenValues, 563, 1160, 20, '#007f00');
addSeries(greenDense, 565, 1160, 20, '#007f00');
addSeries(greenWide, 567, 1160, 20, '#007f00');

// white boxes behind the annotations
[[170.5, 66, 215.5, 130], [626, 66, 224, 130], [1427, 69, 224, 124]].forEach(function (b) {
    svg.append('rect').attr('x', b[0]).attr('y', b[1]).attr('width', b[2]).attr('height', b[3]).attr('fill', '#fff');
});
label(279, 126, 'FB1：LG', 41, { color: '#ff0000', heavy: true, length: 176 });
label(279, 177, 'FB2：LG', 41, { color: '#ff0000', heavy: true, length: 176 });
label(738, 123, 'FB1：HG', 41, { color: '#0000ff', heavy: true, length: 184 });
label(738, 174, 'FB2：LG', 41, { color: '#0000ff', heavy: true, length: 184 });
label(1538, 121, 'FB1：HG', 41, { color: '#00b050', heavy: true, length: 184 });
label(1538, 171, 'FB2：HG', 41, { color: '#00b050', heavy: true, length: 184 });

label(1100, 35, 'dP/P=0.29521%rms, 0.25688%rms, 0.30468% rms', 25, { length: 633 });
label(1100, 615, 'time(s)', 26, { length: 92 });
label(45, 302, 'dP/P (%)', 26, { rotate: true, length: 115 });

// legend
svg.append('rect').attr('x', 1806).attr('y', 65).attr('width', 278).attr('height', 96)
    .attr('fill', '#fff').attr('stroke', '#111').attr('stroke-width', 1.5);
svg.append('path').attr('fill', 'none').attr('stroke', '#111').attr('stroke-width', 1.5)
    .attr('d', d3.line()([[2084, 65], [2088, 65], [2088, 161], [2084, 161]]));
var legendY = d3.scalePoint().domain(legendNames).range([85, 142]);
var legendColor = d3.scaleOrdinal().domain(legendNames).range(['#ff0000', '#0000ff', '#007f00']);
legendNames.forEach(function (name) {
    svg.append('circle').attr('cx', 1862).attr('cy', legendY(name)).attr('r', 4.5).attr('fill', legendColor(name));
    label(1910, legendY(name) + 7, name, 19, { anchor: 'start', length: name === 'FB1LG&FB2LG' ? 153 : (name === 'FB1HG&FB2LG' ? 157 : 161) });
});

// ---------- histograms ----------
function drawHist(counts, firstBin, left, right, maxCount, yTicks) {
    var binW = 0.01;
    var x = d3.scaleLinear().domain([-1.5, 1.5]).range([left, right]);
    var y = d3.scaleLinear().domain([0, maxCount]).range([1240, 741]);
    drawFrame(x, y, histXTicks, yTicks, '#111');
    var g = svg.append('g').attr('fill', '#00008b');
    var w = x(binW) - x(0);

    g.append('line').attr('x1', x(-1.2)).attr('x2', x(1.2)).attr('y1', y(0)).attr('y2', y(0))
        .attr('stroke', '#00008b').attr('stroke-width', 1.5);
    g.selectAll('.bar').data(counts).enter().append('rect')
        .attr('x', function (d, i) { return x(firstBin + i * binW); })
        .attr('y', function (d) { return y(d); })
        .attr('width', w + 0.5)
        .attr('height', function (d) { return y(0) - y(d); });
    // small cap on top of every bar
    g.selectAll('.cap').data(counts).enter().append('rect')
        .attr('x', function (d, i) { return x(firstBin + i * binW); })
        .attr('y', function (d) { return y(d) - 0.7; })
        .attr('width', function (d) { return d > 0 ? 5 : 0; })
        .attr('height', 1.8);
}

drawHist(hist1Counts, -0.754, 110.7, 659.4, 16, hist1Ticks);
drawHist(hist2Counts, -0.812, 830.7, 1377.6, 35, hist2Ticks);
drawHist(hist3Counts, -0.947, 1549.3, 2095, 45, hist3Ticks);

label(382, 727, 'FB1LG,FB2LG: dP/P= 0.29521% rms', 25, { length: 484 });
label(1103, 727, 'FB1HG,FB2LG: dP/P= 0.25688% rms', 25, { length: 486 });
label(1820, 727, 'FB1HG,FB2HG: dP/P= 0.30468% rms', 25, { length: 488 });

label(244, 793, '0.3% rms', 41, { color: '#ff0000', heavy: true, length: 217 });
label(972, 796, '0.26% rms', 41, { color: '#0000ff', heavy: true, length: 246 });
label(1682, 789, '0.3% rms', 41, { color: '#00b050', heavy: true, length: 215 });

label(60, 992, 'Number', 26, { rotate: true, length: 104 });
label(779, 992, 'Number', 26, { rotate: true, length: 104 });
label(1497, 992, 'Number', 26, { rotate: true, length: 104 });
label(381, 1305, 'dP/P (%)', 26, { length: 117 });
label(1100, 1305, 'dP/P (%)', 26, { length: 117 });
label(1820, 1305, 'dP/P (%)', 26, { length: 117 });
</script>
</body>
</html>
